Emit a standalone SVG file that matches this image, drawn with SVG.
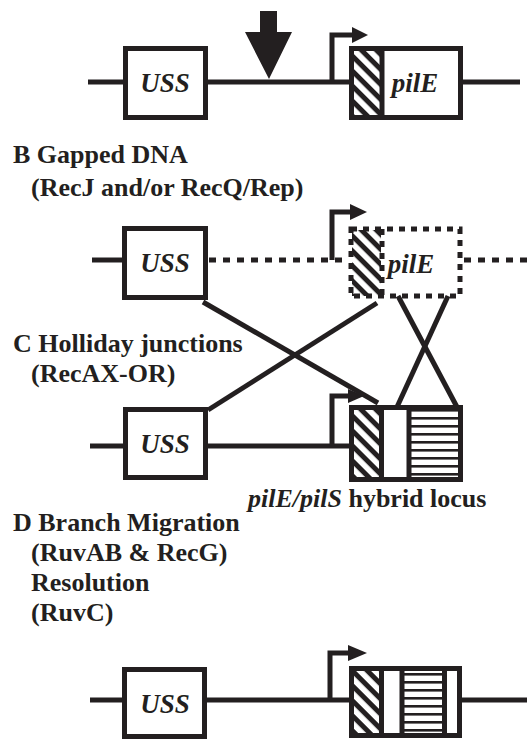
<svg xmlns="http://www.w3.org/2000/svg" width="527" height="740" viewBox="0 0 527 740">
  <style>
    .dna { stroke: #231f20; stroke-width: 5; fill: none; }
    .gap { stroke: #231f20; stroke-width: 5; fill: none; stroke-dasharray: 7 7; }
    .box { stroke: #231f20; stroke-width: 5; fill: #fff; }
    .dbox { stroke: #231f20; stroke-width: 5; fill: none; stroke-dasharray: 6 6; }
    .head { fill: #231f20; }
    .gene { font-family: "Liberation Serif", "Times New Roman", serif; font-weight: bold; font-style: italic; font-size: 27px; fill: #231f20; text-anchor: middle; }
    .lbl { font-family: "Liberation Serif", "Times New Roman", serif; font-weight: bold; font-size: 26px; fill: #231f20; }
    .it { font-style: italic; }
  </style>
  <defs>
    <!-- diagonal hatching for the pilE promoter-proximal region -->
    <pattern id="hatch" patternUnits="userSpaceOnUse" width="10.6" height="10.6" patternTransform="rotate(45)">
      <rect width="10.6" height="10.6" fill="#fff"/>
      <rect width="10.6" height="5" fill="#231f20"/>
    </pattern>
    <!-- horizontal stripes for pilS-derived sequence -->
    <pattern id="stripes" patternUnits="userSpaceOnUse" width="8" height="8" y="1">
      <rect width="8" height="8" fill="#fff"/>
      <rect width="8" height="2.6" fill="#231f20"/>
    </pattern>
  </defs>

  <!-- Row A: intact locus with cut site -->
  <g id="rowA">
    <path class="dna" d="M88,82 H520"/>
    <g id="A-uss">
      <rect class="box" x="125.5" y="48.5" width="80" height="69"/>
      <text class="gene" x="165" y="92">USS</text>
    </g>
    <polygon id="A-cut" class="head" points="260,11 277,11 277,32 292,32 269,79 245,32 260,32"/>
    <g id="A-promoter">
      <path class="dna" d="M332,82 V35 H354"/>
      <polygon class="head" points="352,27 368,35 352,43"/>
    </g>
    <g id="A-pilE">
      <rect class="box" x="351.5" y="48.5" width="109" height="69"/>
      <rect x="354" y="51" width="28" height="64" fill="url(#hatch)"/>
      <path class="dna" d="M382,48.5 V117.5"/>
      <text class="gene" x="415" y="92">pilE</text>
    </g>
  </g>

  <!-- Row B: gapped DNA -->
  <g id="rowB">
    <path class="dna" d="M92,260 H124"/>
    <path class="gap" d="M209,260 H349"/>
    <path class="gap" d="M464,260 H527"/>
    <g id="B-uss">
      <rect class="box" x="124.5" y="228.5" width="81" height="69"/>
      <text class="gene" x="165" y="272">USS</text>
    </g>
    <g id="B-promoter">
      <path class="dna" d="M332,260 V212 H352"/>
      <polygon class="head" points="350,204 367,212 350,220"/>
    </g>
    <g id="B-pilE">
      <rect x="352" y="230" width="29" height="66" fill="url(#hatch)"/>
      <rect class="dbox" x="351" y="229" width="109" height="67"/>
      <path class="dbox" d="M382,229 V296"/>
      <text class="gene" x="411" y="273">pilE</text>
    </g>
  </g>

  <!-- Row C: Holliday junctions -->
  <g id="rowC">
    <path class="dna" d="M90,446 H349"/>
    <g id="C-uss">
      <rect class="box" x="125.5" y="409.5" width="80" height="68"/>
      <text class="gene" x="165" y="453">USS</text>
    </g>
    <g id="C-promoter">
      <path class="dna" d="M332,446 V396 H350"/>
      <polygon class="head" points="348,389 364,396 348,403"/>
    </g>
    <g id="C-hybrid">
      <rect class="box" x="351.5" y="407.5" width="109" height="72"/>
      <rect x="354" y="410" width="27" height="67" fill="url(#hatch)"/>
      <rect x="409" y="410" width="49" height="67" fill="url(#stripes)"/>
      <path class="dna" d="M381.5,407.5 V479.5 M409,407.5 V479.5"/>
    </g>
  </g>

  <!-- strand exchange between rows B and C -->
  <g id="connectors">
    <path class="dna" d="M203,302 L378,403"/>
    <path class="dna" d="M377,303 L208,410"/>
    <path class="dna" d="M398,296 L457,407"/>
    <path class="dna" d="M448,296 L397,407"/>
  </g>

  <!-- Row D: resolved product -->
  <g id="rowD">
    <path class="dna" d="M90,700 H527"/>
    <g id="D-uss">
      <rect class="box" x="124.5" y="669.5" width="80" height="67"/>
      <text class="gene" x="165" y="713">USS</text>
    </g>
    <g id="D-promoter">
      <path class="dna" d="M330,700 V653 H350"/>
      <polygon class="head" points="348,645 367,653 348,661"/>
    </g>
    <g id="D-hybrid">
      <rect class="box" x="351.5" y="668.5" width="108" height="67"/>
      <rect x="354" y="671" width="27" height="62" fill="url(#hatch)"/>
      <rect x="402" y="671" width="42" height="62" fill="url(#stripes)"/>
      <path class="dna" d="M381.5,668.5 V735.5 M402,668.5 V735.5 M444.5,668.5 V735.5"/>
    </g>
  </g>

  <!-- step labels -->
  <g id="labels">
    <text class="lbl" x="13" y="163">B Gapped DNA</text>
    <text class="lbl" x="31" y="196">(RecJ and/or RecQ/Rep)</text>
    <text class="lbl" x="13" y="352">C Holliday junctions</text>
    <text class="lbl" x="31" y="382">(RecAX-OR)</text>
    <text class="lbl" x="248" y="507"><tspan class="it">pilE/pilS</tspan> hybrid locus</text>
    <text class="lbl" x="13" y="531">D Branch Migration</text>
    <text class="lbl" x="31" y="561">(RuvAB &amp; RecG)</text>
    <text class="lbl" x="31" y="591">Resolution</text>
    <text class="lbl" x="31" y="621">(RuvC)</text>
  </g>
</svg>
